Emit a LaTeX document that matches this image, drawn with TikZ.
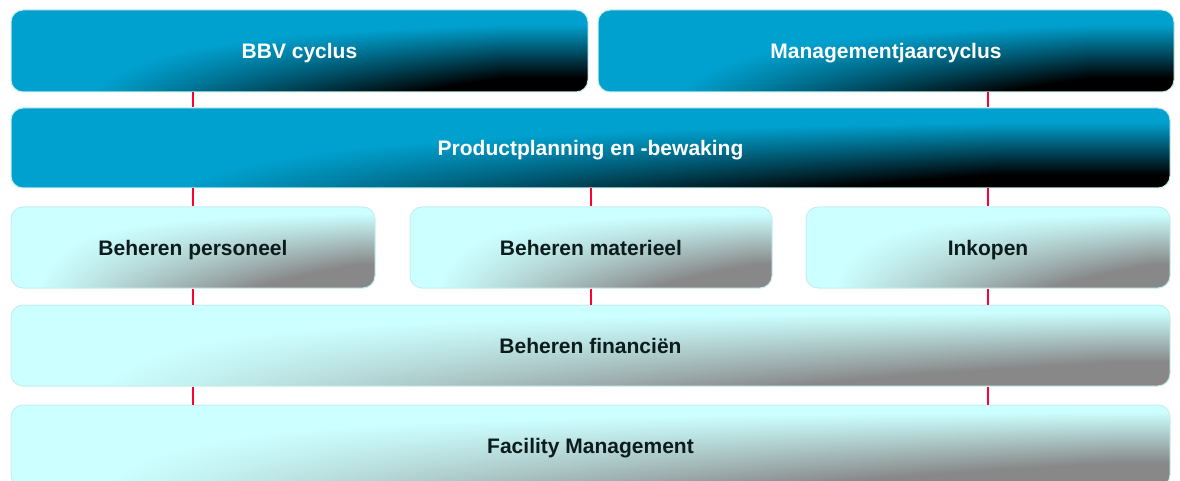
\documentclass[tikz,border=0pt]{standalone}
\usepackage{fontspec}
\setmainfont{Liberation Sans}
\definecolor{taskInk}{HTML}{0C1C1C}
\definecolor{edgeCyan}{HTML}{C6EEEE}
\definecolor{linkRed}{HTML}{FF0033}
% colour darkens with depth, but only towards the right of a bar
% (the bar itself spans 25bp..75bp of the shading)
\pgfdeclarefunctionalshading{cycleshade}{\pgfpointorigin}{\pgfpoint{100bp}{100bp}}{}{
  75 exch sub 50 div exch 25 sub 50 div
  1.15 mul 0.02 add dup 0 lt {pop 0} if dup 1 gt {pop 1} if
  mul 0.18 sub 1.54 mul dup 0 lt {pop 0} if dup 1 gt {pop 1} if
  1 exch sub dup 0.63 mul exch 0.81 mul 0 3 1 roll
}
\pgfdeclarefunctionalshading{taskshade}{\pgfpointorigin}{\pgfpoint{100bp}{100bp}}{}{
  75 exch sub 50 div exch 25 sub 50 div
  1.05 mul dup 0 lt {pop 0} if dup 1 gt {pop 1} if
  mul 0.08 sub 1.6 mul dup 0 lt {pop 0} if dup 1 gt {pop 1} if
  dup -0.267 mul 0.8 add exch dup -0.467 mul 1 add exch -0.467 mul 1 add
}

\begin{document}
\begin{tikzpicture}[x=1pt,y=-1pt,line cap=round,line join=round]
\path[fill=white] (0,0) rectangle (1180,481);
\useasboundingbox (0,0) rectangle (1180,481);
\tikzset{bar/.style={draw=edgeCyan,line width=1pt,rounded corners=12pt,inner sep=0pt,text depth=0pt,font=\fontsize{21}{25}\selectfont\bfseries},
  cycle/.style={bar,shade,shading=cycleshade,text=white},
  task/.style={bar,shade,shading=taskshade,text=taskInk},
  link/.style={draw=linkRed,line width=2.6pt,line cap=butt}}
% top row: planning cycles
\node[cycle,minimum width=577pt,minimum height=82pt] (bbv) at (299.5,51) {BBV cyclus};
\node[cycle,minimum width=576pt,minimum height=82pt] (mjc) at (886,51) {Managementjaarcyclus};
\node[cycle,minimum width=1159pt,minimum height=80pt] (ppb) at (590.5,148) {Productplanning en -bewaking};
% supporting processes
\node[task,minimum width=364pt,minimum height=81pt] (bper) at (193,247.5) {Beheren personeel};
\node[task,minimum width=362pt,minimum height=81pt] (bmat) at (591,247.5) {Beheren materieel};
\node[task,minimum width=364pt,minimum height=81pt] (ink) at (988,247.5) {Inkopen};
\node[task,minimum width=1159pt,minimum height=81pt] (bfin) at (590.5,345.5) {Beheren financiën};
\node[task,minimum width=1159pt,minimum height=82pt] (fm) at (590.5,446) {Facility Management};
% red links between the layers
\draw[link] (bper.north |- bbv.south) -- (bper.north |- ppb.north);
\draw[link] (ink.north |- mjc.south) -- (ink.north |- ppb.north);
\foreach \n in {bper,bmat,ink} {
  \draw[link] (\n.north |- ppb.south) -- (\n.north);
  \draw[link] (\n.south) -- (\n.south |- bfin.north);
}
\draw[link] (bper.south |- bfin.south) -- (bper.south |- fm.north);
\draw[link] (ink.south |- bfin.south) -- (ink.south |- fm.north);
\end{tikzpicture}
\end{document}
